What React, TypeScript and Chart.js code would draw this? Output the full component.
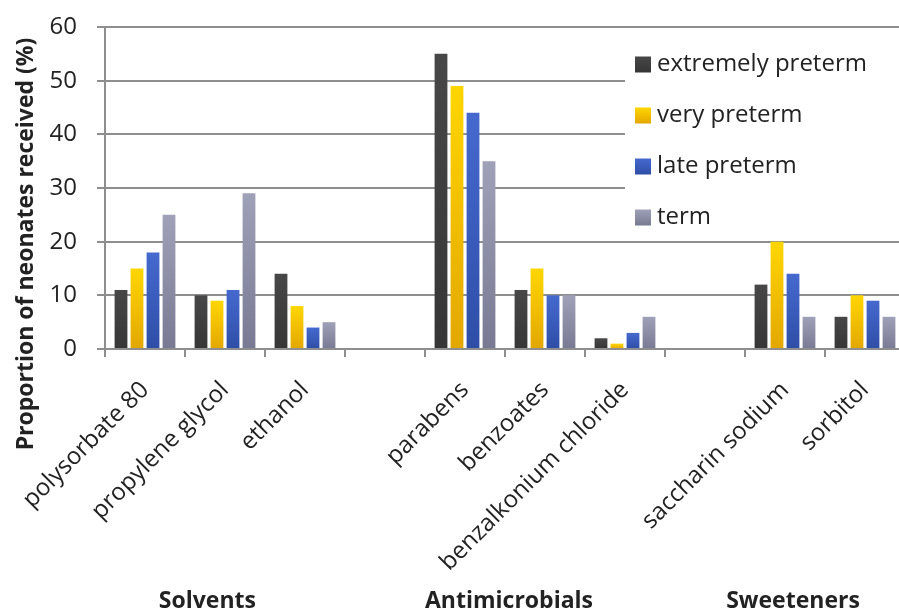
import React, { useEffect, useRef } from "react";
import { Chart, registerables } from "chart.js";

Chart.register(...registerables);

// ---------- data ----------
const categories = [
  "polysorbate 80",
  "propylene glycol",
  "ethanol",
  "",
  "parabens",
  "benzoates",
  "benzalkonium chloride",
  "",
  "saccharin sodium",
  "sorbitol",
];
const seriesNames = ["extremely preterm", "very preterm", "late preterm", "term"];
const extremelyPreterm = [11, 10, 14, null, 55, 11, 2, null, 12, 6];
const veryPreterm = [15, 9, 8, null, 49, 15, 1, null, 20, 10];
const latePreterm = [18, 11, 4, null, 44, 10, 3, null, 14, 9];
const termValues = [25, 29, 5, null, 35, 10, 6, null, 6, 6];
const yMin = 0;
const yMax = 60;
const yStep = 10;
const groupNames = ["Solvents", "Antimicrobials", "Sweeteners"];
const yTitle = "Proportion of neonates received (%)";

// ---------- style ----------
const FONT = "'Open Sans', 'DejaVu Sans', sans-serif";
const TEXT = "#222222";
const LINE = "#8e8e8e";
const seriesColors: [string, string][] = [
  ["#474747", "#363636"],
  ["#ffd600", "#e3a700"],
  ["#4669cf", "#2e4ea6"],
  ["#9fa1b8", "#787a93"],
];
const groupAnchors = [0.78, 4.55, 8.1];

function barGradient(ctx: CanvasRenderingContext2D, top: number, bottom: number, i: number) {
  const g = ctx.createLinearGradient(0, top, 0, bottom);
  g.addColorStop(0, seriesColors[i][0]);
  g.addColorStop(1, seriesColors[i][1]);
  return g;
}

const overlayPlugin = {
  id: "overlay",
  afterDraw(chart: any) {
    const ctx: CanvasRenderingContext2D = chart.ctx;
    const area = chart.chartArea;
    ctx.save();
    // legend (inside plot area, top right)
    ctx.fillStyle = "#ffffff";
    ctx.fillRect(area.left + 520, area.top + 4, 400, 200);
    seriesNames.forEach((name, i) => {
      const cy = area.top + 37.5 + i * 51;
      const sx = area.left + 530;
      ctx.fillStyle = barGradient(ctx, cy - 8, cy + 8, i);
      ctx.fillRect(sx, cy - 8, 16, 16);
      ctx.fillStyle = TEXT;
      ctx.font = `24px ${FONT}`;
      ctx.textAlign = "left";
      ctx.textBaseline = "middle";
      ctx.fillText(name, sx + 22, cy);
    });
    // y axis title
    ctx.save();
    ctx.translate(26, 244);
    ctx.rotate(-Math.PI / 2);
    ctx.font = `bold 23px ${FONT}`;
    ctx.fillStyle = TEXT;
    ctx.textAlign = "center";
    ctx.textBaseline = "middle";
    ctx.fillText(yTitle, 0, 0);
    ctx.restore();
    // group labels
    const xs = chart.scales.x;
    ctx.font = `bold 23px ${FONT}`;
    ctx.fillStyle = TEXT;
    ctx.textAlign = "center";
    ctx.textBaseline = "middle";
    groupNames.forEach((g, i) => {
      ctx.fillText(g, xs.getPixelForValue(groupAnchors[i]), 601);
    });
    ctx.restore();
  },
};

export default function App() {
  const ref = useRef<HTMLCanvasElement | null>(null);

  useEffect(() => {
    document.body.style.margin = "0";
    document.body.style.overflow = "hidden";
    const canvas = ref.current;
    if (!canvas) return;
    const seriesData = [extremelyPreterm, veryPreterm, latePreterm, termValues];
    const chart = new Chart(canvas, {
      type: "bar",
      data: {
        labels: categories,
        datasets: seriesData.map((d, i) => ({
          label: seriesNames[i],
          data: d,
          categoryPercentage: 0.8,
          barPercentage: 0.8,
          backgroundColor: (c: any) => {
            const ch = c.chart;
            const ys = ch.scales && ch.scales.y;
            if (!ys || c.raw == null || c.type !== "data") return seriesColors[i][0];
            const top = ys.getPixelForValue(c.raw);
            const bottom = ys.getPixelForValue(0);
            if (!isFinite(top) || !isFinite(bottom) || top === bottom) return seriesColors[i][0];
            return barGradient(ch.ctx, top, bottom, i);
          },
          borderWidth: 0,
        })),
      },
      options: {
        responsive: false,
        animation: false,
        layout: { padding: { left: 25, right: 10, top: 27, bottom: 0 } },
        plugins: {
          legend: { display: false },
          tooltip: { enabled: false },
          title: { display: false },
        },
        scales: {
          x: {
            grid: {
              drawOnChartArea: false,
              drawTicks: true,
              tickLength: 8,
              color: LINE,
              lineWidth: 2,
              offset: true,
            },
            border: { color: LINE, width: 2 },
            ticks: {
              autoSkip: false,
              maxRotation: 45,
              minRotation: 45,
              padding: 19,
              color: TEXT,
              font: { family: FONT, size: 24 },
            },
            afterFit: (s: any) => {
              s.height = 266;
              s.paddingLeft = 0;
              s.paddingRight = 0;
            },
          },
          y: {
            min: yMin,
            max: yMax,
            ticks: {
              stepSize: yStep,
              padding: 20,
              color: TEXT,
              font: { family: FONT, size: 24 },
            },
            grid: { color: LINE, lineWidth: 2, tickLength: 8, drawTicks: true },
            border: { color: LINE, width: 2 },
            afterFit: (s: any) => {
              s.width = 80;
              s.paddingTop = 0;
              s.paddingBottom = 0;
            },
          },
        },
      },
      plugins: [overlayPlugin],
    });
    return () => chart.destroy();
  }, []);

  return (
    <div
      style={{
        position: "fixed",
        left: 0,
        top: 0,
        width: 899,
        height: 615,
        overflow: "hidden",
        background: "#ffffff",
      }}
    >
      <canvas ref={ref} width={915} height={615} style={{ display: "block" }} />
    </div>
  );
}
